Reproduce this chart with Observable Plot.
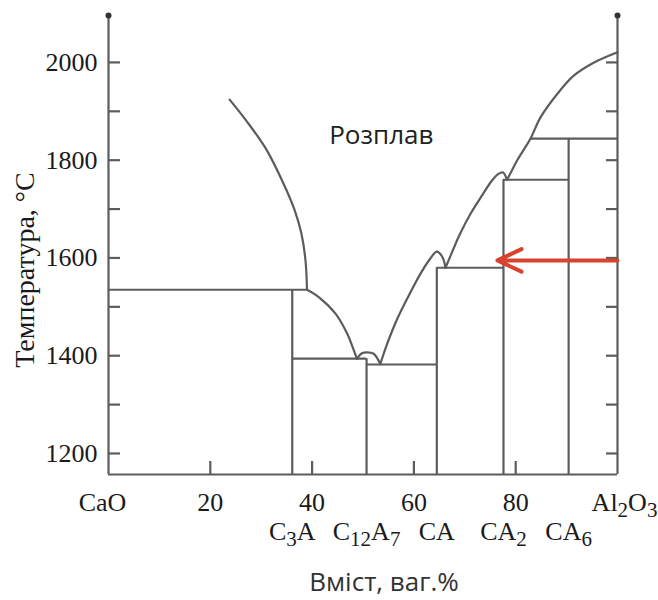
<!DOCTYPE html>
<html><head><meta charset="utf-8">
<script src="https://cdn.jsdelivr.net/npm/d3@7"></script>
<script src="https://cdn.jsdelivr.net/npm/@observablehq/plot@0.6"></script>
<style>
body{margin:0;background:#fff}
#chart{width:658px;height:600px}
</style>
</head><body><div id="chart"></div>
<script>
// ---- data ----
const xDomain = [0, 100];
const yDomain = [1157, 2096];
const yTicks = [1200, 1300, 1400, 1500, 1600, 1700, 1800, 1900, 2000];
const yTickLabels = [1200, 1400, 1600, 1800, 2000];
const xTicks = [20, 40, 60, 80];
const endLabels = ["CaO", "Al₂O₃"];
const endLabelX = [0, 100];
const compoundNames = ["C₃A", "C₁₂A₇", "CA", "CA₂", "CA₆"];
const compoundX = [36.1, 50.7, 64.5, 77.6, 90.4];
const compoundTop = [1535, 1394, 1580, 1760, 1844];
const eutecticT = [1535, 1394, 1382, 1580, 1760, 1844];
const eutecticFrom = [0, 36.1, 50.7, 64.5, 77.6, 82.9];
const eutecticTo = [39.0, 50.7, 64.5, 77.6, 90.4, 100];
const liqCaO = [[23.8,1924],[27.2,1879],[31.0,1822],[34.3,1754],[36.5,1700],[37.9,1650],[38.7,1595],[39.0,1535]];
const liqC3A = [[39.0,1535],[41.3,1520],[44.6,1486],[46.9,1445],[48.2,1411],[48.8,1394]];
const liqC12A7 = [[48.8,1394],[49.8,1405],[50.8,1407],[52.1,1404],[53.4,1383]];
const liqCA = [[53.4,1383],[54.6,1420],[56.5,1470],[58.5,1513],[61.3,1568],[63.3,1600],[64.5,1613],[65.6,1602],[66.2,1580]];
const liqCA2 = [[66.2,1580],[67.5,1612],[69.0,1648],[71.1,1690],[73.4,1728],[75.3,1758],[76.6,1772],[77.5,1775],[78.3,1760]];
const liqAl2O3 = [[78.3,1760],[79.6,1786],[80.3,1800],[81.5,1820],[82.9,1844],[84.9,1888],[88.2,1936],[91.4,1973],[95.4,2000],[100,2021]];
const meltLabel = {text: "Розплав", x: 53.6, T: 1834};
const xAxisTitle = "Вміст, ваг.%";
const yAxisTitle = "Температура, °C";
const arrowData = {x1: 100, x2: 76.4, T: 1595};

// ---- derived tables ----
const compounds = compoundNames.map((n, i) => ({name: n, x: compoundX[i], top: compoundTop[i]}));
const eutectics = eutecticT.map((t, i) => ({T: t, x1: eutecticFrom[i], x2: eutecticTo[i]}));
const liquidus = [liqCaO, liqC3A, liqC12A7, liqCA, liqCA2, liqAl2O3]
  .flatMap((seg, k) => seg.map(([x, T]) => ({x, T, s: k})));

const grey = "#5c5c5c";
const sw = 2.2;
const serif = "Liberation Serif";
const sans = "Open Sans";

const chart = Plot.plot({
  width: 658,
  height: 600,
  marginLeft: 108,
  marginRight: 41,
  marginTop: 15,
  marginBottom: 126,
  style: {fontFamily: serif, fontSize: "25px", color: "#222", background: "#fff"},
  x: {domain: xDomain},
  y: {domain: yDomain},
  marks: [
    // frame (left, right, bottom)
    Plot.ruleX(endLabelX, {stroke: grey, strokeWidth: sw}),
    Plot.ruleY([yDomain[0]], {stroke: grey, strokeWidth: sw}),
    Plot.dot(endLabelX, {x: d => d, y: () => yDomain[1], r: 3, fill: "#333", stroke: null}),
    // axes with inward ticks
    Plot.axisY({anchor: "left", ticks: yTicks, tickSize: -12, tickPadding: 23, stroke: grey, strokeWidth: sw,
      tickFormat: d => yTickLabels.includes(d) ? String(d) : "", fontSize: 26, fill: "#1a1a1a", label: null}),
    Plot.axisY({anchor: "right", ticks: yTicks, tickSize: -12, stroke: grey, strokeWidth: sw,
      tickFormat: () => "", label: null}),
    Plot.axisX({anchor: "bottom", ticks: xTicks, tickSize: -13, tickPadding: 31, stroke: grey, strokeWidth: sw,
      tickFormat: d => String(d), fontSize: 26, fill: "#1a1a1a", label: null}),
    // end labels
    Plot.text([endLabels[0]], {x: () => endLabelX[0], frameAnchor: "bottom", dy: 18, dx: -6, lineAnchor: "top", text: d => d, fontSize: 26, fill: "#1a1a1a"}),
    Plot.text([endLabels[1]], {x: () => endLabelX[1], frameAnchor: "bottom", dy: 18, dx: 7, lineAnchor: "top", text: d => d, fontSize: 26, fill: "#1a1a1a"}),
    // compound labels
    Plot.text(compounds, {x: "x", text: "name", frameAnchor: "bottom", dy: 47, lineAnchor: "top", fontSize: 26, fill: "#1a1a1a"}),
    // compound verticals
    Plot.ruleX(compounds, {x: "x", y1: () => yDomain[0], y2: "top", stroke: grey, strokeWidth: sw}),
    // eutectic horizontals
    Plot.ruleY(eutectics, {y: "T", x1: "x1", x2: "x2", stroke: grey, strokeWidth: sw}),
    // liquidus
    Plot.line(liquidus, {x: "x", y: "T", z: "s", curve: "catmull-rom", stroke: grey, strokeWidth: sw, strokeLinejoin: "round"}),
    // red arrow
    Plot.arrow([arrowData], {x1: "x1", x2: "x2", y1: "T", y2: "T", stroke: "#d8432e", strokeWidth: 4, headLength: 10, headAngle: 50}),
    // melt label
    Plot.text([meltLabel], {x: "x", y: "T", text: "text", lineAnchor: "bottom", fontFamily: sans, fontSize: 26, fill: "#222"}),
    // axis titles
    Plot.text([xAxisTitle], {text: d => d, frameAnchor: "bottom", dx: 21, dy: 116, lineAnchor: "bottom", textAnchor: "middle", fontFamily: sans, fontSize: 26, fill: "#333"}),
    Plot.text([yAxisTitle], {text: d => d, frameAnchor: "left", dx: -75, dy: 25, rotate: -90, lineAnchor: "bottom", textAnchor: "middle", fontSize: 28, fill: "#1a1a1a"})
  ]
});

// render subscript digits as lowered tspans
const subMap = {"₀":"0","₁":"1","₂":"2","₃":"3","₄":"4","₅":"5","₆":"6","₇":"7","₈":"8","₉":"9"};
const isSub = c => c in subMap;
const NS = "http://www.w3.org/2000/svg";
chart.querySelectorAll("text, tspan").forEach(el => {
  if (el.children.length) return;
  const s = el.textContent;
  if (![...s].some(isSub)) return;
  el.textContent = "";
  const chars = [...s];
  let i = 0, shifted = false;
  while (i < chars.length) {
    const sub = isSub(chars[i]);
    let j = i;
    while (j < chars.length && isSub(chars[j]) === sub) j++;
    const ts = document.createElementNS(NS, "tspan");
    ts.textContent = sub ? chars.slice(i, j).map(c => subMap[c]).join("") : chars.slice(i, j).join("");
    if (sub) { ts.setAttribute("dy", "6"); ts.setAttribute("font-size", "21"); shifted = true; }
    else if (shifted) { ts.setAttribute("dy", "-6"); shifted = false; }
    el.appendChild(ts);
    i = j;
  }
});

document.getElementById("chart").appendChild(chart);
</script>
</body></html>
